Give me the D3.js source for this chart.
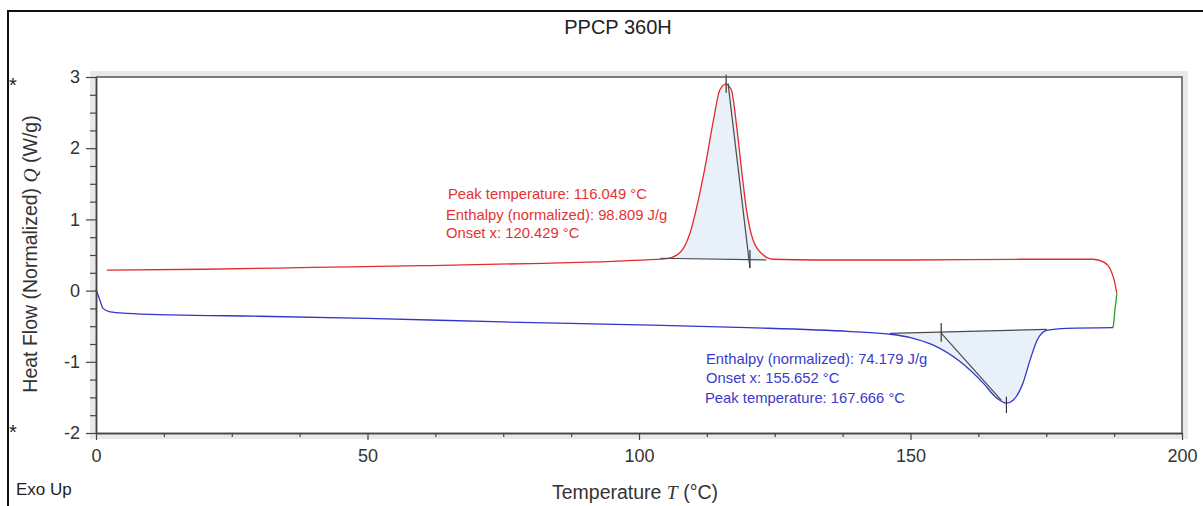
<!DOCTYPE html>
<html>
<head>
<meta charset="utf-8">
<script src="https://cdn.jsdelivr.net/npm/d3@7/dist/d3.min.js"></script>
<style>
  html, body { margin: 0; padding: 0; background: #fff; }
  svg { display: block; font-family: "Liberation Sans", Arial, sans-serif; }
</style>
</head>
<body>
<script>
var width = 1203, height = 506;

// heating curve (red), T in °C, Q in W/g
var heatT = [2, 20, 40, 60, 80, 95, 102, 105.1, 107.5, 109.4, 111.2, 112.4, 113.7, 114.9, 116, 117, 118, 118.9, 119.8, 121, 122.9, 124.7, 133, 150, 170, 183.6, 185.6, 186.8, 187.5, 188];
var heatQ = [0.287, 0.30, 0.325, 0.35, 0.38, 0.41, 0.435, 0.45, 0.53, 0.81, 1.37, 1.83, 2.39, 2.82, 2.90, 2.82, 2.30, 1.69, 1.13, 0.71, 0.50, 0.44, 0.43, 0.43, 0.44, 0.44, 0.40, 0.30, 0.15, -0.04];

// cooling curve (blue)
var coolT = [0, 0.7, 1.3, 2.6, 5.7, 14, 30, 50, 75, 100, 120, 139, 146, 150, 154, 159, 163.4, 165.9, 167.7, 168.9, 170.7, 172, 173.3, 175.1, 178.8, 187.3];
var coolQ = [0.02, -0.13, -0.25, -0.30, -0.32, -0.34, -0.36, -0.39, -0.44, -0.48, -0.52, -0.575, -0.61, -0.66, -0.76, -0.99, -1.30, -1.51, -1.58, -1.54, -1.30, -0.98, -0.70, -0.56, -0.53, -0.52];

// isothermal segment (green)
var isoT = [187.3, 187.45, 187.6, 187.8, 188];
var isoQ = [-0.52, -0.44, -0.30, -0.18, -0.04];

// peak evaluations
var redBase = [[103.9, 0.454], [123.5, 0.43]];
var redTangent = [[116.4, 2.91], [120.43, 0.317]];
var redPeakT = 116.049, redOnsetT = 120.429;
var redLabels = ["Peak temperature: 116.049 °C", "Enthalpy (normalized): 98.809 J/g", "Onset x: 120.429 °C"];

var blueBase = [[146.2, -0.60], [175.1, -0.544]];
var blueTangent = [[155.65, -0.596], [166.7, -1.537]];
var bluePeakT = 167.666, blueOnsetT = 155.652;
var blueLabels = ["Enthalpy (normalized): 74.179 J/g", "Onset x: 155.652 °C", "Peak temperature: 167.666 °C"];

var xMajor = [0, 50, 100, 150, 200];
var yMajor = [-2, -1, 0, 1, 2, 3];

// plot box (pixels)
var pL = 96, pR = 1182, pT = 77, pB = 433;

var x = d3.scaleLinear().domain([0, 200]).range([pL, pR]);
var y = d3.scaleLinear().domain([-2, 3]).range([pB, pT]);

var svg = d3.select('body').append('svg')
    .attr('width', width)
    .attr('height', height);

// outer frame
svg.append('path')
    .attr('d', 'M8,' + height + 'V11H' + width)
    .attr('fill', 'none')
    .attr('stroke', '#111')
    .attr('stroke-width', 2);

// gray bevel behind the plot box
svg.append('rect')
    .attr('x', pL - 6).attr('y', pT - 6)
    .attr('width', pR - pL + 12).attr('height', pB - pT + 12)
    .attr('fill', '#e9e9e9');
svg.append('rect')
    .attr('x', pL).attr('y', pT)
    .attr('width', pR - pL).attr('height', pB - pT)
    .attr('fill', '#fff');

function zip(a, b) {
    return a.map(function(v, i) { return [v, b[i]]; });
}
var heat = zip(heatT, heatQ);
var cool = zip(coolT, coolQ);
var iso = zip(isoT, isoQ);

function lerpBase(base, t) {
    var k = (t - base[0][0]) / (base[1][0] - base[0][0]);
    return base[0][1] + k * (base[1][1] - base[0][1]);
}
function inside(data, base) {
    var pts = data.filter(function(d) { return d[0] > base[0][0] && d[0] < base[1][0]; });
    return [base[0]].concat(pts, [base[1]]);
}

var area = function(base) {
    return d3.area()
        .x(function(d) { return x(d[0]); })
        .y0(function(d) { return y(lerpBase(base, d[0])); })
        .y1(function(d) { return y(d[1]); })
        .curve(d3.curveMonotoneX);
};

svg.append('path')
    .attr('d', area(redBase)(inside(heat, redBase)))
    .attr('fill', '#e8f1fa');
svg.append('path')
    .attr('d', area(blueBase)(inside(cool, blueBase)))
    .attr('fill', '#e8f1fa');

var line = d3.line()
    .x(function(d) { return x(d[0]); })
    .y(function(d) { return y(d[1]); })
    .curve(d3.curveMonotoneX);

svg.append('path').attr('d', line(heat)).attr('fill', 'none').attr('stroke', '#e32b2b').attr('stroke-width', 1.3);
svg.append('path').attr('d', line(cool)).attr('fill', 'none').attr('stroke', '#3434cc').attr('stroke-width', 1.3);
svg.append('path').attr('d', d3.line().x(function(d) { return x(d[0]); }).y(function(d) { return y(d[1]); })(iso))
    .attr('fill', 'none').attr('stroke', '#2f9a2f').attr('stroke-width', 1.3);

// baselines, tangents, markers
var straight = d3.line().x(function(d) { return x(d[0]); }).y(function(d) { return y(d[1]); });
[redBase, redTangent, blueBase, blueTangent].forEach(function(seg) {
    svg.append('path').attr('d', straight(seg)).attr('fill', 'none')
        .attr('stroke', '#4a4a4a').attr('stroke-width', 1.2);
});
var markers = [
    [redPeakT, 3.03, 2.78],
    [redOnsetT, 0.57, 0.32],
    [blueOnsetT, -0.455, -0.72],
    [bluePeakT, -1.49, -1.72]
];
markers.forEach(function(m) {
    svg.append('line')
        .attr('x1', x(m[0])).attr('x2', x(m[0]))
        .attr('y1', y(m[1])).attr('y2', y(m[2]))
        .attr('stroke', '#333').attr('stroke-width', 1.2);
});

// plot frame top / right
svg.append('path')
    .attr('d', 'M' + pL + ',' + pT + 'H' + pR + 'V' + pB)
    .attr('fill', 'none').attr('stroke', '#555').attr('stroke-width', 1.5);

// axes
var minorX = d3.range(0, 200.1, 12.5).filter(function(v) { return v % 50 !== 0; });
var minorY = d3.range(-2, 3.01, 0.25).filter(function(v) { return Math.abs(v - Math.round(v)) > 0.01; });
var plain = function(d) { return String(d); };

var gx = svg.append('g').attr('transform', 'translate(0,' + pB + ')');
gx.append('g').call(d3.axisBottom(x).tickValues(minorX).tickSize(4).tickSizeOuter(0).tickFormat(''));
gx.append('g').call(d3.axisBottom(x).tickValues(xMajor).tickSize(7).tickSizeOuter(0).tickPadding(9).tickFormat(plain));

var gy = svg.append('g').attr('transform', 'translate(' + pL + ',0)');
gy.append('g').call(d3.axisLeft(y).tickValues(minorY).tickSize(6).tickSizeOuter(0).tickFormat(''));
gy.append('g').call(d3.axisLeft(y).tickValues(yMajor).tickSize(10).tickSizeOuter(0).tickPadding(6).tickFormat(plain));

svg.selectAll('.domain').attr('stroke', '#444').attr('stroke-width', 1.5);
svg.selectAll('.tick line').attr('stroke', '#444').attr('stroke-width', 1.2);
svg.selectAll('.tick text').attr('fill', '#333').style('font-size', '18px')
    .style('font-family', '"Liberation Sans", Arial, sans-serif');

// title and axis titles
svg.append('text')
    .attr('x', 618).attr('y', 34)
    .attr('text-anchor', 'middle')
    .style('font-size', '20px').attr('fill', '#222')
    .text('PPCP 360H');

var xt = svg.append('text')
    .attr('x', 635).attr('y', 499)
    .attr('text-anchor', 'middle')
    .style('font-size', '19.5px').attr('fill', '#333');
xt.append('tspan').text('Temperature ');
xt.append('tspan').style('font-family', '"Liberation Serif", serif').style('font-style', 'italic').text('T');
xt.append('tspan').text(' (°C)');

var yt = svg.append('text')
    .attr('transform', 'translate(37,254) rotate(-90)')
    .attr('text-anchor', 'middle')
    .style('font-size', '19.5px').attr('fill', '#333');
yt.append('tspan').text('Heat Flow (Normalized) ');
yt.append('tspan').style('font-family', '"Liberation Serif", serif').style('font-style', 'italic').text('Q');
yt.append('tspan').text(' (W/g)');

svg.append('text').attr('x', 16).attr('y', 495)
    .style('font-size', '17px').attr('fill', '#222').text('Exo Up');

[92, 439].forEach(function(yy) {
    svg.append('text').attr('x', 13).attr('y', yy).attr('text-anchor', 'middle')
        .style('font-size', '20px').attr('fill', '#222').text('*');
});

// peak annotations
var redPos = [[448, 199], [446, 220], [446, 238]];
redLabels.forEach(function(t, i) {
    svg.append('text').attr('x', redPos[i][0]).attr('y', redPos[i][1])
        .style('font-size', '14.8px').attr('fill', '#e5332f').text(t);
});
var bluePos = [[706, 364], [706, 383], [705, 403]];
blueLabels.forEach(function(t, i) {
    svg.append('text').attr('x', bluePos[i][0]).attr('y', bluePos[i][1])
        .style('font-size', '14.8px').attr('fill', '#3a3acc').text(t);
});
</script>
</body>
</html>
